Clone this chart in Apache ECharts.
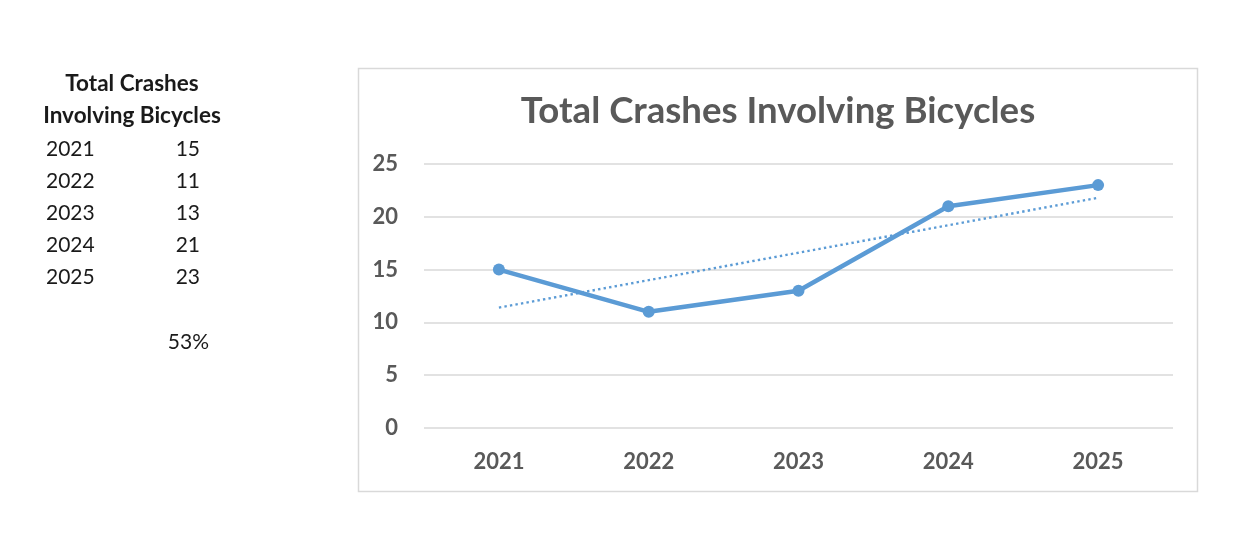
<!DOCTYPE html>
<html>
<head>
<meta charset="utf-8">
<script src="https://cdn.jsdelivr.net/npm/echarts@6/dist/echarts.min.js"></script>
<style>
  html, body { margin: 0; padding: 0; background: #fff; }
  #main { width: 1243px; height: 559px; }
</style>
</head>
<body>
<div id="main"></div>
<script>
// data
var years = ['2021', '2022', '2023', '2024', '2025'];
var crashes = [15, 11, 13, 21, 23];
var trend = [11.4, 14.0, 16.6, 19.2, 21.8]; // linear trendline as drawn
var yTicks = [0, 5, 10, 15, 20, 25];
var pctChange = '53%';

var FONT = 'Lato';
var chart = echarts.init(document.getElementById('main'));

// left-hand table next to the chart
var tableEls = [
  { type: 'text', x: 132, y: 84, style: { text: 'Total Crashes', font: 'bold 22.5px ' + FONT, fill: '#1a1a1a', textAlign: 'center', textVerticalAlign: 'middle' } },
  { type: 'text', x: 132, y: 116, style: { text: 'Involving Bicycles', font: 'bold 22.5px ' + FONT, fill: '#1a1a1a', textAlign: 'center', textVerticalAlign: 'middle' } }
];
years.forEach(function (y, i) {
  var rowY = 149 + i * 32;
  tableEls.push({ type: 'text', x: 46, y: rowY, style: { text: y, font: '21px ' + FONT, fill: '#1a1a1a', textAlign: 'left', textVerticalAlign: 'middle' } });
  tableEls.push({ type: 'text', x: 200, y: rowY, style: { text: String(crashes[i]), font: '21px ' + FONT, fill: '#1a1a1a', textAlign: 'right', textVerticalAlign: 'middle' } });
});
tableEls.push({ type: 'text', x: 209, y: 342, style: { text: pctChange, font: '21px ' + FONT, fill: '#1a1a1a', textAlign: 'right', textVerticalAlign: 'middle' } });

let option = {
  backgroundColor: '#fff',
  animation: false,
  title: {
    text: 'Total Crashes Involving Bicycles',
    left: 773,
    top: 88,
    textAlign: 'center',
    textStyle: { fontFamily: FONT, fontSize: 36.6, fontWeight: 'bold', color: '#595959' }
  },
  graphic: [
    { type: 'rect', shape: { x: 358.5, y: 68.5, width: 839, height: 423 }, style: { fill: 'none', stroke: '#d9d9d9', lineWidth: 1.5 }, z: -1 }
  ].concat(tableEls),
  grid: { left: 424, right: 70, top: 164, bottom: 131 },
  xAxis: {
    type: 'category',
    data: years,
    boundaryGap: true,
    axisLine: { show: false },
    axisTick: { show: false },
    axisLabel: { fontFamily: FONT, fontSize: 22, fontWeight: 'bold', color: '#595959', margin: 23 }
  },
  yAxis: {
    type: 'value',
    min: yTicks[0],
    max: yTicks[yTicks.length - 1],
    interval: yTicks[1] - yTicks[0],
    axisLine: { show: false },
    axisTick: { show: false },
    splitLine: { lineStyle: { color: '#d9d9d9', width: 1.5 } },
    axisLabel: { fontFamily: FONT, fontSize: 22, fontWeight: 'bold', color: '#595959', margin: 26 }
  },
  series: [
    {
      name: 'Total Crashes',
      type: 'line',
      data: crashes,
      symbol: 'circle',
      symbolSize: 12,
      lineStyle: { color: '#5b9bd5', width: 4.5 },
      itemStyle: { color: '#5b9bd5' },
      z: 3
    },
    {
      name: 'Trend',
      type: 'line',
      data: trend,
      symbol: 'none',
      lineStyle: { color: '#5b9bd5', width: 2.4, type: [2.4, 3.2] },
      z: 2
    }
  ]
};
chart.setOption(option);
</script>
</body>
</html>
